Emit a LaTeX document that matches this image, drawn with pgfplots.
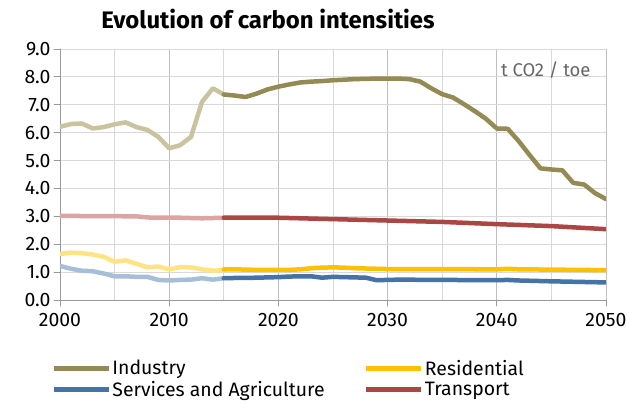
\documentclass[border=0pt]{standalone}
\usepackage{pgfplots}
\pgfplotsset{compat=1.18}
\usepackage{fontspec}
\setmainfont{Fira Sans}

\definecolor{indD}{HTML}{948A54}
\definecolor{indL}{HTML}{C9C3A0}
\definecolor{resD}{HTML}{FFC000}
\definecolor{resL}{HTML}{FFE385}
\definecolor{serD}{HTML}{4572A7}
\definecolor{serL}{HTML}{A7BED8}
\definecolor{traD}{HTML}{AA4643}
\definecolor{traL}{HTML}{DBA5A4}

\begin{document}
\begin{tikzpicture}
\path[use as bounding box] (-60bp,-105bp) rectangle (570bp,300bp);
\begin{axis}[
  at={(0,0)}, anchor=south west,
  scale only axis,
  width=546bp, height=251bp,
  xmin=2000, xmax=2050,
  ymin=0, ymax=9,
  xtick={2000,2010,...,2050},
  minor xtick={2005,2015,...,2045},
  ytick={0,1,...,9},
  axis x line*=bottom, axis y line*=left,
  axis line style={draw=black!40, line width=0.8bp, -},
  tick style={draw=black!40, line width=0.8bp},
  tick align=outside,
  major tick length=6bp, minor tick length=0bp,
  grid=both,
  major grid style={draw=black!25, line width=0.9bp},
  minor grid style={draw=black!15, line width=0.9bp},
  y grid style={draw=black!15, line width=0.9bp},
  xticklabel style={/pgf/number format/1000 sep={}, yshift=-4bp},
  yticklabel style={/pgf/number format/.cd, fixed, fixed zerofill, precision=1},
  /pgf/number format/assume math mode=true,
  tick label style={font=\fontsize{19.5}{21}\selectfont},
  legend columns=2,
  legend cell align=left,
  legend style={draw=none, fill=none, at={(axis description cs:-0.016,-0.232)}, anchor=north west,
    inner sep=0pt, row sep=1.5bp, nodes={inner sep=1.5bp},
    font=\fontsize{19.5}{22}\selectfont},
  legend image code/.code={\draw[line width=4.5bp] (0bp,0bp) -- (55bp,0bp);},
  line join=round, line cap=round,
]
% historic (lighter)
\addplot[indL, line width=4.5bp, forget plot] coordinates {(2000,6.21) (2001,6.31) (2002,6.33) (2003,6.15) (2004,6.2) (2005,6.3) (2006,6.37) (2007,6.2) (2008,6.1) (2009,5.85) (2010,5.44) (2011,5.55) (2012,5.85) (2013,7.1) (2014,7.59) (2015,7.37)};
\addplot[resL, line width=4.5bp, forget plot] coordinates {(2000,1.65) (2001,1.70) (2002,1.68) (2003,1.63) (2004,1.55) (2005,1.37) (2006,1.42) (2007,1.3) (2008,1.17) (2009,1.2) (2010,1.10) (2011,1.18) (2012,1.17) (2013,1.1) (2014,1.05) (2015,1.07)};
\addplot[serL, line width=4.5bp, forget plot] coordinates {(2000,1.22) (2001,1.12) (2002,1.05) (2003,1.03) (2004,0.95) (2005,0.85) (2006,0.85) (2007,0.83) (2008,0.83) (2009,0.72) (2010,0.70) (2011,0.72) (2012,0.73) (2013,0.78) (2014,0.73) (2015,0.78)};
\addplot[traL, line width=4.5bp, forget plot] coordinates {(2000,3.02) (2001,3.02) (2002,3.01) (2003,3.01) (2004,3.01) (2005,3.01) (2006,3.0) (2007,3.0) (2008,2.96) (2009,2.95) (2010,2.95) (2011,2.95) (2012,2.94) (2013,2.93) (2014,2.94) (2015,2.95)};
% projections
\addplot[indD, line width=4.5bp] coordinates {(2015,7.37) (2016,7.33) (2017,7.28) (2018,7.4) (2019,7.55) (2020,7.65) (2021,7.73) (2022,7.8) (2023,7.83) (2024,7.85) (2025,7.88) (2026,7.9) (2027,7.92) (2028,7.93) (2029,7.94) (2030,7.94) (2031,7.94) (2032,7.92) (2033,7.83) (2034,7.59) (2035,7.38) (2036,7.26) (2037,7.02) (2038,6.77) (2039,6.5) (2040,6.15) (2041,6.14) (2042,5.7) (2043,5.2) (2044,4.72) (2045,4.68) (2046,4.65) (2047,4.2) (2048,4.14) (2049,3.83) (2050,3.62)};
\addlegendentry{\makebox[250bp][l]{Industry}}
\addplot[resD, line width=4.5bp] coordinates {(2015,1.10) (2016,1.10) (2017,1.09) (2018,1.08) (2019,1.08) (2020,1.08) (2021,1.08) (2022,1.10) (2023,1.14) (2024,1.16) (2025,1.17) (2026,1.16) (2027,1.14) (2028,1.13) (2029,1.12) (2030,1.11) (2035,1.11) (2039,1.10) (2040,1.10) (2041,1.12) (2042,1.10) (2045,1.09) (2050,1.07)};
\addlegendentry{Residential}
\addplot[serD, line width=4.5bp] coordinates {(2015,0.78) (2016,0.79) (2017,0.79) (2018,0.80) (2019,0.81) (2020,0.82) (2021,0.84) (2022,0.85) (2023,0.85) (2024,0.80) (2025,0.83) (2026,0.82) (2027,0.81) (2028,0.80) (2029,0.71) (2030,0.72) (2031,0.73) (2035,0.72) (2040,0.71) (2041,0.72) (2042,0.70) (2045,0.67) (2050,0.63)};
\addlegendentry{\makebox[250bp][l]{Services and Agriculture}}
\addplot[traD, line width=4.5bp] coordinates {(2015,2.95) (2020,2.95) (2022,2.93) (2025,2.90) (2030,2.85) (2035,2.80) (2040,2.72) (2045,2.65) (2050,2.54)};
\addlegendentry{Transport}
\node[anchor=east, text=black!60, font=\fontsize{18.5}{20}\selectfont, inner sep=0pt] at (axis cs:2048.6,8.24) {t CO2 / toe};
\end{axis}
\node[font=\bfseries\fontsize{24}{26}\selectfont, inner sep=0pt] at (208bp,281bp) {Evolution of carbon intensities};
\end{tikzpicture}
\end{document}
